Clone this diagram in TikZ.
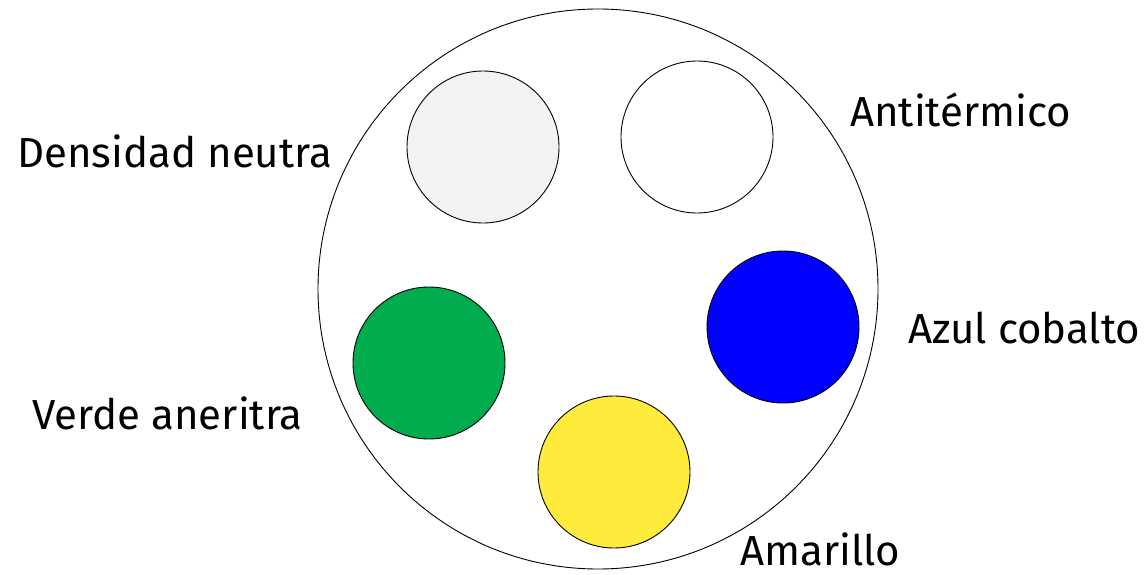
\documentclass[tikz,border=0pt]{standalone}
\usepackage{fontspec}
\setmainfont{Fira Sans}
\definecolor{lgray}{HTML}{F2F2F2}
\definecolor{vgreen}{HTML}{00AC4E}
\definecolor{cblue}{HTML}{0000FF}
\definecolor{yel}{HTML}{FFEB3B}
\begin{document}
\begin{tikzpicture}[x=1pt,y=-1pt,
  disc/.style={circle,draw=black,line width=0.9pt,minimum size=152pt,inner sep=0pt},
  lbl/.style={anchor=base west,inner sep=0pt,font=\fontsize{42}{48}\selectfont}]
\useasboundingbox (0,0) rectangle (1148,575);
\node[circle,draw=black,line width=0.9pt,minimum size=560pt,inner sep=0pt] (big) at (598,289) {};
\node[disc,fill=lgray] (gray) at (483,147) {};
\node[disc,fill=white] (white) at (697,137) {};
\node[disc,fill=cblue] (blue) at (783,327) {};
\node[disc,fill=vgreen] (green) at (429,363) {};
\node[disc,fill=yel] (yellow) at (614,472) {};
\node[lbl] (t1) at (17,167) {Densidad neutra};
\node[lbl] (t2) at (850,127) {Antitérmico};
\node[lbl] (t3) at (908,343) {Azul cobalto};
\node[lbl] (t4) at (32,429) {Verde aneritra};
\node[lbl] (t5) at (740,565) {Amarillo};
\end{tikzpicture}
\end{document}
